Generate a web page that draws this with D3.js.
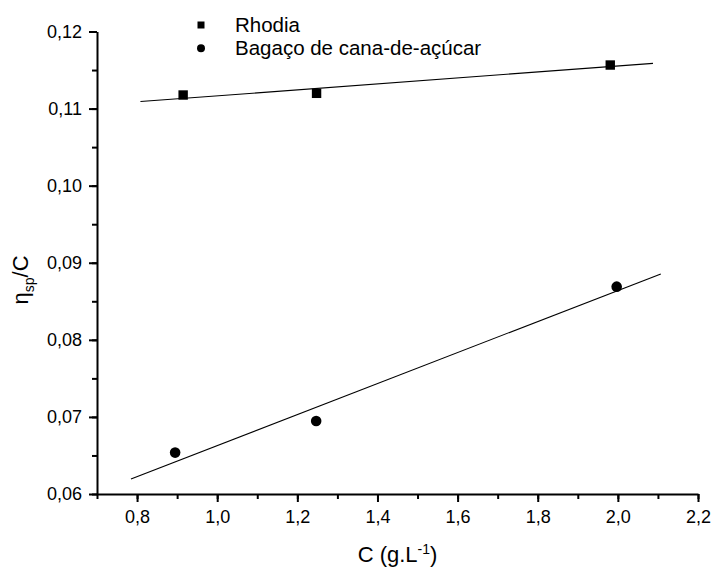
<!DOCTYPE html>
<html>
<head>
    <title>eta sp / C vs C</title>
    <script src="https://d3js.org/d3.v7.min.js"></script>
    <style>
        body { margin: 0; background: #fff; }
        text { font-family: Arial, "Liberation Sans", sans-serif; fill: #000; }
    </style>
</head>
<body>
    <svg id="chart">
        <g id="fits"></g>
        <g id="shapes"></g>
        <g id="x"></g>
        <g id="y"></g>
        <g id="legend"></g>
    </svg>

    <script>
        // data
        var seriesNames = ["Rhodia", "Bagaço de cana-de-açúcar"];
        var rhodiaC = [0.915, 1.248, 1.981];
        var rhodiaEta = [0.11176, 0.11198, 0.11565];
        var bagacoC = [0.895, 1.247, 1.997];
        var bagacoEta = [0.06537, 0.06948, 0.0869];

        var xTicks = [0.8, 1.0, 1.2, 1.4, 1.6, 1.8, 2.0, 2.2];
        var yTicks = [0.06, 0.07, 0.08, 0.09, 0.10, 0.11, 0.12];

        var width = 713;
        var height = 568;

        var svg = d3.select("#chart")
                    .attr("width", width)
                    .attr("height", height);

        var x = d3.scaleLinear()
            .domain([0.7, 2.2])
            .range([97, 698]);

        var y = d3.scaleLinear()
            .domain([0.06, 0.12])
            .range([494, 31.5]);

        var br = d3.formatLocale({decimal: ",", thousands: ".", grouping: [3], currency: ["", ""]});

        // minor ticks first, then major on top
        var xMinor = d3.range(0.7, 2.21, 0.1).map(function(d) { return +d.toFixed(2); });
        var yMinor = d3.range(0.06, 0.1201, 0.005).map(function(d) { return +d.toFixed(3); });

        svg.select("#x")
            .attr("transform", "translate(0," + y.range()[0] + ")")
            .call(d3.axisBottom(x).tickValues(xMinor).tickSize(5).tickFormat(""))
            .call(function(g) { g.select(".domain").remove(); });

        svg.select("#x").append("g")
            .call(d3.axisBottom(x).tickValues(xTicks).tickSize(8).tickSizeOuter(0)
                    .tickPadding(8).tickFormat(br.format(".1f")));

        svg.select("#y")
            .attr("transform", "translate(" + x.range()[0] + ",0)")
            .call(d3.axisLeft(y).tickValues(yMinor).tickSize(5).tickFormat(""))
            .call(function(g) { g.select(".domain").remove(); });

        svg.select("#y").append("g")
            .call(d3.axisLeft(y).tickValues(yTicks).tickSize(8).tickSizeOuter(0)
                    .tickPadding(7).tickFormat(br.format(".2f")));

        svg.selectAll("#x .domain, #y .domain, #x .tick line, #y .tick line")
            .attr("stroke", "#000")
            .attr("stroke-width", 2);
        svg.selectAll("#x .tick text, #y .tick text")
            .attr("font-size", "18px")
            .attr("font-family", "Arial, 'Liberation Sans', sans-serif");

        // axis titles
        var xt = svg.append("text")
            .attr("x", (x.range()[0] + x.range()[1]) / 2)
            .attr("y", 562)
            .attr("text-anchor", "middle")
            .attr("font-size", "22px");
        xt.append("tspan").text("C (g.L");
        xt.append("tspan").attr("dy", -8).attr("font-size", "14px").text("-1");
        xt.append("tspan").attr("dy", 8).text(")");

        var yt = svg.append("text")
            .attr("transform", "translate(28,280) rotate(-90)")
            .attr("text-anchor", "middle")
            .attr("font-size", "22px");
        yt.append("tspan").text("η");
        yt.append("tspan").attr("dy", 6).attr("font-size", "14px").text("sp");
        yt.append("tspan").attr("dy", -6).text("/C");

        // linear fits, drawn 10% beyond the data span like Origin does
        function fit(xs, ys) {
            var mx = d3.mean(xs), my = d3.mean(ys);
            var sxy = d3.sum(xs, function(d, i) { return (d - mx) * (ys[i] - my); });
            var sxx = d3.sum(xs, function(d) { return (d - mx) * (d - mx); });
            var b = sxy / sxx, a = my - b * mx;
            var ext = d3.extent(xs), pad = (ext[1] - ext[0]) * 0.1;
            return [ext[0] - pad, ext[1] + pad].map(function(c) { return [c, a + b * c]; });
        }

        var line = d3.line()
            .x(function(d) { return x(d[0]); })
            .y(function(d) { return y(d[1]); });

        svg.select("#fits").selectAll("path")
            .data([fit(rhodiaC, rhodiaEta), fit(bagacoC, bagacoEta)])
            .enter().append("path")
            .attr("d", line)
            .attr("fill", "none")
            .attr("stroke", "#000")
            .attr("stroke-width", 1.1);

        // points
        svg.select("#shapes").selectAll(".sq")
            .data(d3.zip(rhodiaC, rhodiaEta))
            .enter().append("rect")
            .attr("class", "sq")
            .attr("x", function(d) { return x(d[0]) - 4.7; })
            .attr("y", function(d) { return y(d[1]) - 4.7; })
            .attr("width", 9.4)
            .attr("height", 9.4)
            .attr("fill", "#000");

        svg.select("#shapes").selectAll(".dot")
            .data(d3.zip(bagacoC, bagacoEta))
            .enter().append("circle")
            .attr("class", "dot")
            .attr("cx", function(d) { return x(d[0]); })
            .attr("cy", function(d) { return y(d[1]); })
            .attr("r", 5.3)
            .attr("fill", "#000");

        // legend
        var legend = svg.select("#legend").attr("transform", "translate(201,25)");
        legend.append("rect")
            .attr("x", -3.5).attr("y", -3.5)
            .attr("width", 7).attr("height", 7)
            .attr("fill", "#000");
        legend.append("circle")
            .attr("cx", 0).attr("cy", 23.3)
            .attr("r", 4)
            .attr("fill", "#000");
        legend.selectAll("text")
            .data(seriesNames)
            .enter().append("text")
            .attr("x", 34)
            .attr("y", function(d, i) { return 7 + i * 23.3; })
            .attr("font-size", "20.5px")
            .text(function(d) { return d; });
    </script>
</body>
</html>
